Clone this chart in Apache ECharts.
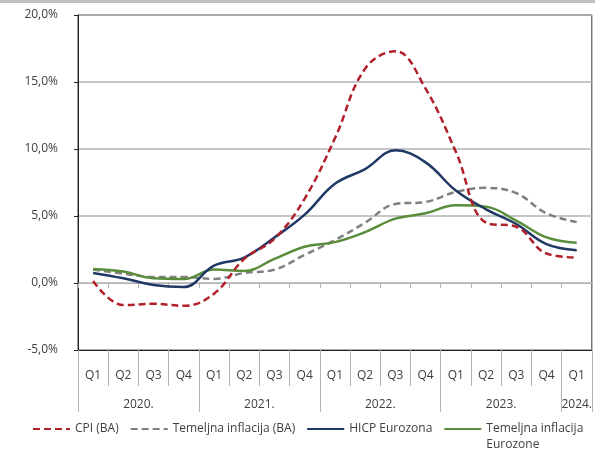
<html>
<head>
<meta charset="UTF-8">
<title>inflacija</title>
<script src="https://cdn.jsdelivr.net/npm/echarts@6/dist/echarts.min.js"></script>
<style>body{margin:0;background:#fff}#main{width:595px;height:450px}</style>
</head>
<body>
<div id="main"></div>
<script>
var quarters = ['Q1','Q2','Q3','Q4','Q1','Q2','Q3','Q4','Q1','Q2','Q3','Q4','Q1','Q2','Q3','Q4','Q1'];
// year label positions in half-quarter units
var yearPos = {4: '2020.', 12: '2021.', 20: '2022.', 28: '2023.', 33: '2024.'};

var cpiBA =      [0.15,-1.65,-1.55,-1.7,-0.8, 1.8, 3.3, 6.3,10.8,16.0,17.3,14.5, 9.8, 4.5, 4.2, 2.2, 1.9];
var coreBA =     [1.0, 0.7, 0.45,0.45,0.3, 0.75,1.0, 2.1, 3.2, 4.5, 5.9, 6.05,6.8, 7.1, 6.7, 5.2, 4.55];
var hicpEZ =     [0.75,0.35,-0.15,-0.3,1.3, 1.9, 3.4, 5.1, 7.4, 8.5, 9.9, 9.0, 6.9, 5.5, 4.4, 2.9, 2.45];
var coreEZ =     [1.05,0.85,0.35,0.3, 1.0, 0.9, 1.8, 2.7, 3.05,3.8, 4.8, 5.2, 5.8, 5.7, 4.65,3.4, 3.0];

var font = 'Open Sans';
var txt = '#404040';
var gridGray = '#b3b3b3';

var chart = echarts.init(document.getElementById('main'));

var option = {
  animation: false,
  textStyle: {fontFamily: font},
  graphic: [
    {type: 'rect', shape: {x: 0, y: 0, width: 595, height: 3}, style: {fill: '#bfbfbf'}, silent: true}
  ],
  grid: {left: 78, right: 2, top: 15, bottom: 100, show: true, borderColor: '#333', borderWidth: 1},
  legend: {
    left: 32, top: 405, padding: 0, width: 563,
    itemWidth: 37, itemHeight: 10, itemGap: 11,
    itemStyle: {opacity: 0},
    textStyle: {fontFamily: font, fontSize: 12, color: txt, lineHeight: 16},
    // leading blank line keeps the two-line label's first line level with its icon
    formatter: function (name) { return name.indexOf('\n') >= 0 ? '\n' + name : name; },
    data: ['CPI (BA)', 'Temeljna inflacija (BA)', 'HICP Eurozona', 'Temeljna inflacija\nEurozone']
  },
  xAxis: [
    {
      type: 'category', data: quarters, position: 'bottom', boundaryGap: true,
      axisLine: {onZero: true, lineStyle: {color: gridGray}},
      axisTick: {show: true, length: 5, lineStyle: {color: gridGray}},
      axisLabel: {show: false}, splitLine: {show: false}
    },
    {
      type: 'category', data: quarters, position: 'bottom', boundaryGap: true,
      axisLine: {onZero: false, lineStyle: {color: '#222'}},
      axisTick: {show: true, length: 36, lineStyle: {color: gridGray}},
      axisLabel: {margin: 20, fontSize: 12, color: txt, fontFamily: font, interval: 0},
      splitLine: {show: false}
    },
    {
      type: 'value', min: 0, max: 17, interval: 4, position: 'bottom', offset: 36,
      axisLine: {show: false, onZero: false},
      axisTick: {show: true, length: 26, lineStyle: {color: gridGray}},
      axisLabel: {show: false}, splitLine: {show: false}
    },
    {
      type: 'value', min: 0, max: 34, interval: 1, position: 'bottom', offset: 36,
      axisLine: {show: false, onZero: false},
      axisTick: {show: false},
      axisLabel: {
        margin: 13, fontSize: 12, color: txt, fontFamily: font,
        formatter: function (v) { return yearPos[v] || ''; }
      },
      splitLine: {show: false}
    }
  ],
  yAxis: {
    type: 'value', min: -5, max: 20, interval: 5,
    axisLine: {show: true, lineStyle: {color: '#222'}},
    axisTick: {show: true, length: 4, lineStyle: {color: '#222'}},
    axisLabel: {
      margin: 20, fontSize: 12, color: txt, fontFamily: font,
      formatter: function (v) { return v.toFixed(1).replace('.', ',') + '%'; }
    },
    splitLine: {lineStyle: {color: gridGray, width: 1.5}}
  },
  series: [
    {
      name: 'Temeljna inflacija (BA)', type: 'line', data: coreBA, smooth: 0.4, symbol: 'none',
      xAxisIndex: 0, lineStyle: {color: '#808080', width: 2.5, type: [7, 4]}, itemStyle: {color: '#808080'}
    },
    {
      name: 'Temeljna inflacija\nEurozone', type: 'line', data: coreEZ, smooth: 0.4, symbol: 'none',
      xAxisIndex: 0, lineStyle: {color: '#5a8d3a', width: 2.5}, itemStyle: {color: '#5a8d3a'}
    },
    {
      name: 'HICP Eurozona', type: 'line', data: hicpEZ, smooth: 0.4, symbol: 'none',
      xAxisIndex: 0, lineStyle: {color: '#1f3864', width: 2.5}, itemStyle: {color: '#1f3864'}
    },
    {
      name: 'CPI (BA)', type: 'line', data: cpiBA, smooth: 0.4, symbol: 'none',
      xAxisIndex: 0, lineStyle: {color: '#b01f2a', width: 2.5, type: [7, 4]}, itemStyle: {color: '#b01f2a'}
    }
  ]
};

chart.setOption(option);
</script>
</body>
</html>
